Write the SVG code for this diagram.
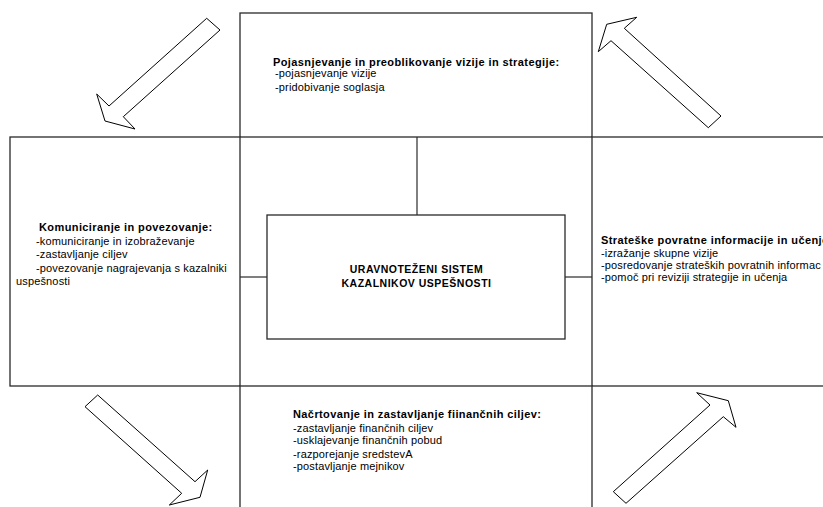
<svg xmlns="http://www.w3.org/2000/svg" width="823" height="507" viewBox="0 0 823 507">
  <style>
    .box { fill: #ffffff; stroke: #2a2a2a; stroke-width: 1.3; }
    .link { fill: none; stroke: #2a2a2a; stroke-width: 1.2; }
    .arrow { fill: #ffffff; stroke: #000000; stroke-width: 1; stroke-linejoin: miter; }
    text { font-family: "Liberation Sans", Arial, sans-serif; fill: #000000; font-size: 11px; letter-spacing: 0.15px; }
    .title { font-weight: bold; letter-spacing: 0.4px; }
    .center { font-weight: bold; font-size: 10.5px; letter-spacing: 0.5px; text-anchor: middle; }
  </style>

  <rect width="823" height="507" fill="#ffffff"/>

  <!-- Top: clarifying the vision -->
  <g id="node-vizija">
    <rect class="box" x="240" y="13" width="352" height="124"/>
    <text class="title" x="273" y="66">Pojasnjevanje in preoblikovanje vizije in strategije:</text>
    <text x="275" y="77">-pojasnjevanje vizije</text>
    <text x="275" y="91">-pridobivanje soglasja</text>
  </g>

  <!-- Left: communicating and linking -->
  <g id="node-komuniciranje">
    <rect class="box" x="10" y="137" width="230" height="249"/>
    <text class="title" x="39" y="231">Komuniciranje in povezovanje:</text>
    <text x="36" y="245">-komuniciranje in izobraževanje</text>
    <text x="36" y="258">-zastavljanje ciljev</text>
    <text x="36" y="272">-povezovanje nagrajevanja s kazalniki</text>
    <text x="16" y="285">uspešnosti</text>
  </g>

  <!-- Right: strategic feedback and learning (runs past the page edge) -->
  <g id="node-povratne">
    <rect class="box" x="592" y="137" width="240" height="249"/>
    <text class="title" x="601" y="244">Strateške povratne informacije in učenje</text>
    <text x="601" y="257">-izražanje skupne vizije</text>
    <text x="601" y="269">-posredovanje strateških povratnih informac</text>
    <text x="601" y="281">-pomoč pri reviziji strategije in učenja</text>
  </g>

  <!-- Bottom: planning and target setting -->
  <g id="node-nacrtovanje">
    <rect class="box" x="240" y="386" width="352" height="130"/>
    <text class="title" x="293" y="418">Načrtovanje in zastavljanje fiinančnih ciljev:</text>
    <text x="293" y="432">-zastavljanje finančnih ciljev</text>
    <text x="293" y="444">-usklajevanje finančnih pobud</text>
    <text x="293" y="458">-razporejanje sredstevA</text>
    <text x="293" y="470">-postavljanje mejnikov</text>
  </g>

  <!-- Connectors from the centre box to the surrounding panels -->
  <g id="connectors">
    <line class="link" x1="417" y1="137" x2="417" y2="215"/>
    <line class="link" x1="240" y1="277" x2="267" y2="277"/>
    <line class="link" x1="565" y1="277" x2="592" y2="277"/>
  </g>

  <!-- Centre: balanced scorecard -->
  <g id="node-center">
    <rect class="box" x="267" y="215" width="298" height="124"/>
    <text class="center" x="416.5" y="273">URAVNOTEŽENI SISTEM</text>
    <text class="center" x="416.5" y="287">KAZALNIKOV USPEŠNOSTI</text>
  </g>

  <!-- Block arrows showing the cycle -->
  <g id="arrows">
    <polygon class="arrow" points="206.7,18.3 220,30 123.3,116.7 135,129 105,121 96.7,94 109,106"/>
    <polygon class="arrow" points="721,116 708.3,127.7 611,40.7 598.3,51.7 606.7,24.3 636.7,17.3 624.3,28.3"/>
    <polygon class="arrow" points="97.7,395 85,406.7 181.7,493.3 169.3,505 200,497.3 207.7,470 195,481.7"/>
    <polygon class="arrow" points="613.3,491.7 626,503.3 723.3,416.7 736,427.3 728.3,400.7 696.7,392.7 710,405"/>
  </g>
</svg>
